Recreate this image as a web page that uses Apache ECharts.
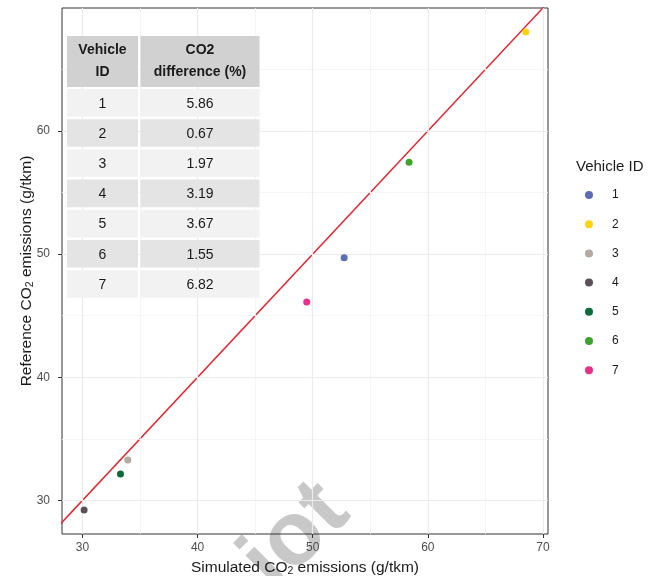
<!DOCTYPE html>
<html><head><meta charset="utf-8">
<script src="https://cdn.jsdelivr.net/npm/echarts@6/dist/echarts.min.js"></script>
<style>html,body{margin:0;padding:0;background:#fff}#c{width:659px;height:576px}</style>
</head><body><div id="c"></div>
<script>
// ---- data ----
const vehicleIds = ['1', '2', '3', '4', '5', '6', '7'];
const simulated = [52.73, 68.52, 33.94, 30.14, 33.30, 58.37, 49.48];
const reference = [49.70, 68.05, 33.28, 29.21, 32.14, 57.46, 46.12];
const co2Difference = ['5.86', '0.67', '1.97', '3.19', '3.67', '1.55', '6.82'];
const vehicleColors = ['#5b6db4', '#ffd30f', '#b5a9a0', '#5c5158', '#0c6b3b', '#3fa22f', '#e8308a'];
const xTicks = [30, 40, 50, 60, 70];
const yTicks = [30, 40, 50, 60];
const xMinorTicks = [35, 45, 55, 65];
const yMinorTicks = [35, 45, 55, 65];
const identityLine = [0, 100];
const tableHeader = ['Vehicle\nID', 'CO2\ndifference (%)'];

// ---- chart ----
const FONT = '"Liberation Sans", Arial, sans-serif';
const chart = echarts.init(document.getElementById('c'), null, {renderer: 'canvas'});

const minorStyle = {color: '#f3f3f3', width: 0.8, type: 'solid'};
const majorStyle = {color: '#ebebeb', width: 1.2, type: 'solid'};
const gridLineData = []
  .concat(xMinorTicks.map(v => ({xAxis: v, lineStyle: minorStyle})))
  .concat(yMinorTicks.map(v => ({yAxis: v, lineStyle: minorStyle})))
  .concat(xTicks.map(v => ({xAxis: v, lineStyle: majorStyle})))
  .concat(yTicks.map(v => ({yAxis: v, lineStyle: majorStyle})));

const scatterSeries = vehicleIds.map((id, i) => ({
  name: id,
  type: 'scatter',
  z: 5,
  symbol: 'circle',
  symbolSize: 7,
  itemStyle: {color: vehicleColors[i], opacity: 1},
  data: [[simulated[i], reference[i]]]
}));

// table graphic
const tbl = {left: 67, colW: [71, 119], gap: 2.5, headTop: 36, headH: 51, rowTop: 89, pitch: 30.2, rowH: 27.6};
const tableEls = [];
const colX = [tbl.left, tbl.left + tbl.colW[0] + tbl.gap];
tableHeader.forEach((h, c) => {
  tableEls.push({type: 'rect', z: 100, shape: {x: colX[c], y: tbl.headTop, width: tbl.colW[c], height: tbl.headH}, style: {fill: '#d1d1d1'}});
  tableEls.push({type: 'text', z: 101, x: colX[c] + tbl.colW[c] / 2, y: tbl.headTop + tbl.headH / 2,
    style: {text: h, font: 'bold 14px ' + FONT, fill: '#1a1a1a', textAlign: 'center', textVerticalAlign: 'middle', lineHeight: 22}});
});
vehicleIds.forEach((id, r) => {
  const y = tbl.rowTop + r * tbl.pitch;
  const fill = r % 2 === 0 ? '#f2f2f2' : '#e4e4e4';
  [id, co2Difference[r]].forEach((t, c) => {
    tableEls.push({type: 'rect', z: 100, shape: {x: colX[c], y: y, width: tbl.colW[c], height: tbl.rowH}, style: {fill: fill}});
    tableEls.push({type: 'text', z: 101, x: colX[c] + tbl.colW[c] / 2, y: y + tbl.rowH / 2 + 1,
      style: {text: t, font: '14px ' + FONT, fill: '#1a1a1a', textAlign: 'center', textVerticalAlign: 'middle'}});
  });
});

const nameStyle = {fontSize: 15.5, color: '#1a1a1a', fontFamily: FONT, lineHeight: 18,
  rich: {sub: {fontSize: 10.5, lineHeight: 10, verticalAlign: 'bottom', fontFamily: FONT, color: '#1a1a1a'}}};

const option = {
  backgroundColor: '#ffffff',
  animation: false,
  textStyle: {fontFamily: FONT},
  grid: {left: 62, right: 111, top: 8, bottom: 42, show: true, borderColor: '#333333', borderWidth: 1,
    backgroundColor: 'transparent', containLabel: false, outerBoundsMode: 'none'},
  xAxis: {
    type: 'value', min: 28.22, max: 70.44,
    axisLine: {show: false},
    axisTick: {show: true, length: 4, lineStyle: {color: '#333333'}, customValues: xTicks},
    axisLabel: {customValues: xTicks, color: '#4d4d4d', fontSize: 12, margin: 8, fontFamily: FONT},
    splitLine: {show: false},
    name: 'Simulated CO{sub|2} emissions (g/tkm)',
    nameLocation: 'middle', nameGap: 25,
    nameTextStyle: nameStyle
  },
  yAxis: {
    type: 'value', min: 27.27, max: 69.99,
    axisLine: {show: false},
    axisTick: {show: true, length: 4, lineStyle: {color: '#333333'}, customValues: yTicks},
    axisLabel: {customValues: yTicks, color: '#4d4d4d', fontSize: 12, margin: 12, fontFamily: FONT},
    splitLine: {show: false},
    name: 'Reference CO{sub|2} emissions (g/tkm)',
    nameLocation: 'middle', nameGap: 26, nameMoveOverlap: false,
    nameTextStyle: nameStyle
  },
  legend: {
    orient: 'vertical', left: 585, top: 189, padding: 0,
    itemWidth: 8, itemHeight: 8, itemGap: 17.2, icon: 'circle',
    data: vehicleIds,
    textStyle: {fontSize: 12, color: '#1a1a1a', fontFamily: FONT, padding: [0, 0, 0, 14]}
  },
  graphic: [
    {type: 'text', z: -1, x: 296, y: 537, rotation: Math.PI / 4,
      style: {text: 'iot', font: 'bold 90px ' + FONT, fill: '#c8c8c8', textAlign: 'center', textVerticalAlign: 'middle'}},
    {type: 'text', z: 10, x: 576, y: 167,
      style: {text: 'Vehicle ID', font: '15px ' + FONT, fill: '#1a1a1a', textAlign: 'left', textVerticalAlign: 'middle'}},
    {type: 'group', z: 100, children: tableEls}
  ],
  series: [
    {
      type: 'line', name: 'grid', z: 1, silent: true, data: [],
      markLine: {silent: true, symbol: 'none', label: {show: false}, animation: false, data: gridLineData}
    },
    {
      type: 'line', name: 'identity', z: 3, silent: true, symbol: 'none', clip: true,
      lineStyle: {color: '#e8202a', width: 1.4},
      data: identityLine.map(v => [v, v])
    }
  ].concat(scatterSeries)
};
chart.setOption(option);
</script></body></html>
